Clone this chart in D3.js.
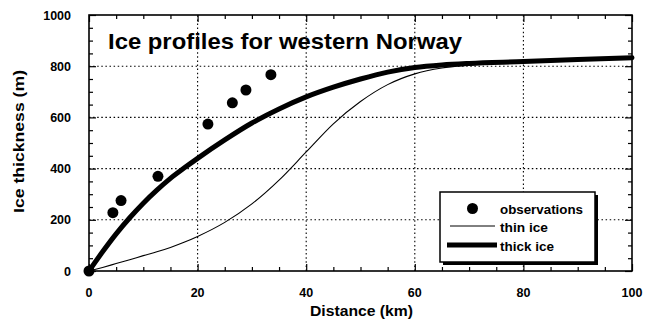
<!DOCTYPE html>
<html>
<head>
<meta charset="utf-8">
<script src="https://cdn.jsdelivr.net/npm/d3@7"></script>
<style>
  html, body { margin: 0; padding: 0; background: #fff; }
  svg { display: block; font-family: "Liberation Sans", Arial, Helvetica, sans-serif; font-weight: bold; }
</style>
</head>
<body>
<svg id="chart" width="645" height="324"></svg>
<script>
// Observed ice thickness (m) against distance (km)
const obsDistance = [0, 4.4, 5.9, 12.7, 21.9, 26.4, 28.9, 33.5];
const obsThickness = [0, 228, 275, 370, 574, 657, 707, 767];

// Modelled profiles
const profileDistance = [0, 2.5, 5, 7.5, 10, 12.5, 15, 17.5, 20, 25, 30, 35, 40, 45, 50, 55, 60, 65, 70, 80, 90, 100];
const thinIce  = [0, 14, 29, 44, 60, 75, 92, 112, 135, 190, 262, 355, 465, 575, 662, 728, 770, 793, 804, 816, 825, 832];
const thickIce = [0, 75, 145, 208, 265, 316, 362, 402, 440, 512, 578, 633, 680, 718, 750, 777, 795, 805, 811, 818, 826, 833];

const xTicks = [0, 20, 40, 60, 80, 100];
const yTicks = [0, 200, 400, 600, 800, 1000];

const titleText = "Ice profiles for western Norway";
const xLabel = "Distance (km)";
const yLabel = "Ice thickness (m)";
const legendLabels = ["observations", "thin ice", "thick ice"];

const svg = d3.select("#chart");
const margin = { left: 89, right: 13, top: 15, bottom: 53 };
const W = 645, H = 324;
const x = d3.scaleLinear().domain([0, 100]).range([margin.left, W - margin.right]);
const y = d3.scaleLinear().domain([0, 1000]).range([H - margin.bottom, margin.top]);

const x0 = x(0), x1 = x(100), y0 = y(0), y1 = y(1000);

// dotted grid at the major ticks
const grid = svg.append("g").attr("stroke", "#000").attr("stroke-width", 1.1).attr("stroke-dasharray", "1.5,2.6");
grid.selectAll(".gx").data(xTicks.slice(1, -1)).join("line")
  .attr("x1", d => x(d)).attr("x2", d => x(d)).attr("y1", y0).attr("y2", y1);
grid.selectAll(".gy").data(yTicks.slice(1, -1)).join("line")
  .attr("y1", d => y(d)).attr("y2", d => y(d)).attr("x1", x0).attr("x2", x1);

// frame with inward ticks on all four sides
const minorX = d3.range(0, 100.01, 5);
const minorY = d3.range(0, 1000.01, 50);
const isMajorX = d => d % 20 === 0;
const isMajorY = d => d % 200 === 0;

svg.append("g").attr("transform", `translate(0,${y0})`)
  .call(d3.axisBottom(x).tickValues(minorX).tickSize(-4).tickFormat(""))
  .call(g => g.select(".domain").remove())
  .call(g => g.selectAll(".tick line").attr("y2", d => isMajorX(d) ? -7 : -4).attr("stroke-width", 1.2));
svg.append("g").attr("transform", `translate(0,${y1})`)
  .call(d3.axisTop(x).tickValues(minorX).tickSize(-4).tickFormat(""))
  .call(g => g.select(".domain").remove())
  .call(g => g.selectAll(".tick line").attr("y2", d => isMajorX(d) ? 7 : 4).attr("stroke-width", 1.2));
svg.append("g").attr("transform", `translate(${x0},0)`)
  .call(d3.axisLeft(y).tickValues(minorY).tickSize(-4).tickFormat(""))
  .call(g => g.select(".domain").remove())
  .call(g => g.selectAll(".tick line").attr("x2", d => isMajorY(d) ? 7 : 4).attr("stroke-width", 1.2));
svg.append("g").attr("transform", `translate(${x1},0)`)
  .call(d3.axisRight(y).tickValues(minorY).tickSize(-4).tickFormat(""))
  .call(g => g.select(".domain").remove())
  .call(g => g.selectAll(".tick line").attr("x2", d => isMajorY(d) ? -7 : -4).attr("stroke-width", 1.2));

svg.append("rect").attr("x", x0).attr("y", y1).attr("width", x1 - x0).attr("height", y0 - y1)
  .attr("fill", "none").attr("stroke", "#000").attr("stroke-width", 1.6);

// tick labels
svg.append("g").selectAll("text").data(xTicks).join("text")
  .attr("x", d => x(d)).attr("y", y0 + 25.5).attr("text-anchor", "middle")
  .attr("font-size", 12.5).text(d => d);
svg.append("g").selectAll("text").data(yTicks).join("text")
  .attr("x", x0 - 18).attr("y", d => y(d) + 4.5).attr("text-anchor", "end")
  .attr("font-size", 12.5).text(d => d);

// axis titles (the typeface is a touch wider than Arial, so widths are set explicitly)
svg.append("text").attr("x", 310).attr("y", 316)
  .attr("font-size", 15).attr("textLength", 103).attr("lengthAdjust", "spacingAndGlyphs").text(xLabel);
svg.append("text").attr("transform", "translate(24,213) rotate(-90)")
  .attr("font-size", 15).attr("textLength", 143).attr("lengthAdjust", "spacingAndGlyphs").text(yLabel);

// chart title
svg.append("text").attr("x", 108).attr("y", 48.5).attr("font-size", 22)
  .attr("textLength", 354).attr("lengthAdjust", "spacingAndGlyphs").text(titleText);

// profiles
const line = d3.line().curve(d3.curveMonotoneX);
const thinPts = profileDistance.map((d, i) => [x(d), y(thinIce[i])]);
const thickPts = profileDistance.map((d, i) => [x(d), y(thickIce[i])]);
svg.append("path").attr("d", line(thinPts)).attr("fill", "none").attr("stroke", "#000").attr("stroke-width", 1.1);
svg.append("path").attr("d", line(thickPts)).attr("fill", "none").attr("stroke", "#000").attr("stroke-width", 5)
  .attr("stroke-linecap", "round");

// observations
svg.append("g").selectAll("circle").data(obsDistance).join("circle")
  .attr("cx", d => x(d)).attr("cy", (d, i) => y(obsThickness[i])).attr("r", 5.5).attr("fill", "#000");

// legend with drop shadow
const lg = svg.append("g");
const lx = 440, ly = 192, lw = 155, lh = 70;
lg.append("rect").attr("x", lx + 3).attr("y", ly + 3).attr("width", lw).attr("height", lh).attr("fill", "#000");
lg.append("rect").attr("x", lx).attr("y", ly).attr("width", lw).attr("height", lh)
  .attr("fill", "#fff").attr("stroke", "#000").attr("stroke-width", 1.5);
lg.append("circle").attr("cx", 472.5).attr("cy", 208.5).attr("r", 5.5).attr("fill", "#000");
lg.append("line").attr("x1", 450).attr("x2", 495).attr("y1", 226).attr("y2", 226).attr("stroke", "#000").attr("stroke-width", 1);
lg.append("line").attr("x1", 447).attr("x2", 497).attr("y1", 245).attr("y2", 245).attr("stroke", "#000").attr("stroke-width", 5);
const legendWidths = [83, 48, 54];
lg.selectAll("text").data(legendLabels).join("text")
  .attr("x", 500).attr("y", (d, i) => 213.5 + i * 18.5).attr("font-size", 12.5)
  .attr("textLength", (d, i) => legendWidths[i]).attr("lengthAdjust", "spacingAndGlyphs").text(d => d);
</script>
</body>
</html>
